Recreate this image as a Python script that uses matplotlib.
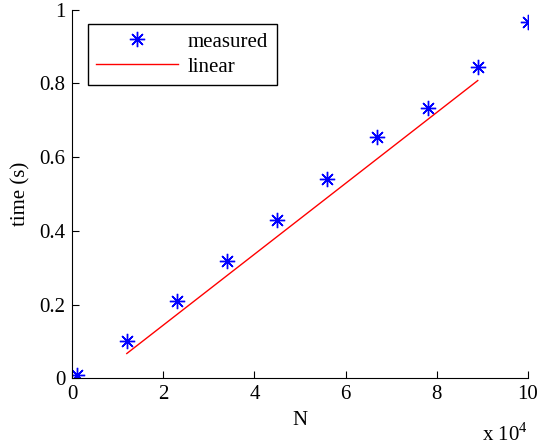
import numpy as np
import matplotlib
matplotlib.use("Agg")
import matplotlib.pyplot as plt

# measured run times (N in units of 1e4)
n_measured = [0.1, 1.2, 2.3, 3.4, 4.5, 5.6, 6.7, 7.8, 8.9, 10.0]
t_measured = [0.01, 0.10, 0.21, 0.318, 0.43, 0.54, 0.655, 0.733, 0.845, 0.968]

# linear fit end points
n_linear = [1.2, 8.9]
t_linear = [0.067, 0.808]

xticks = [0, 2, 4, 6, 8, 10]
yticks = [0, 0.2, 0.4, 0.6, 0.8, 1]
yticklabels = ["0", "0.2", "0.4", "0.6", "0.8", "1"]

plt.rcParams["font.family"] = "Liberation Serif"
plt.rcParams["mathtext.fontset"] = "custom"
plt.rcParams["mathtext.rm"] = "Liberation Serif"

fig = plt.figure(figsize=(5.42, 4.46), dpi=100)
ax = fig.add_axes([0.133, 0.152, 0.841, 0.826])

ax.plot(n_measured, t_measured, linestyle="none", marker=(8, 2, 0),
        markersize=11, markeredgewidth=1.0, color="#0000ff", label="measured")
ax.plot(n_linear, t_linear, color="#ff0000", linewidth=1.0, label="linear")

ax.set_xlim(0, 10)
ax.set_ylim(0, 1)
ax.set_xticks(xticks)
ax.set_xticklabels([str(v) for v in xticks])
ax.set_yticks(yticks)
ax.set_yticklabels(yticklabels)
ax.tick_params(direction="in", length=5, width=0.8, labelsize=15, pad=5)
ax.spines["top"].set_visible(False)
ax.spines["right"].set_visible(False)
ax.spines["left"].set_linewidth(0.8)
ax.spines["bottom"].set_linewidth(0.8)

ax.set_xlabel("N", fontsize=15, labelpad=5)
ax.set_ylabel("time (s)", fontsize=15, labelpad=6)
ax.text(1.0, -0.152, r"x 10$^{4}$", transform=ax.transAxes, ha="right",
        va="center", fontsize=15)

leg = ax.legend(loc="upper left", bbox_to_anchor=(0.035, 0.962), fontsize=15,
                fancybox=False, edgecolor="black", framealpha=1,
                borderaxespad=0, handlelength=3.9, borderpad=0.4,
                labelspacing=0.25, handletextpad=0.5)
leg.get_frame().set_linewidth(1.0)

fig.savefig("out.png", dpi=100)
